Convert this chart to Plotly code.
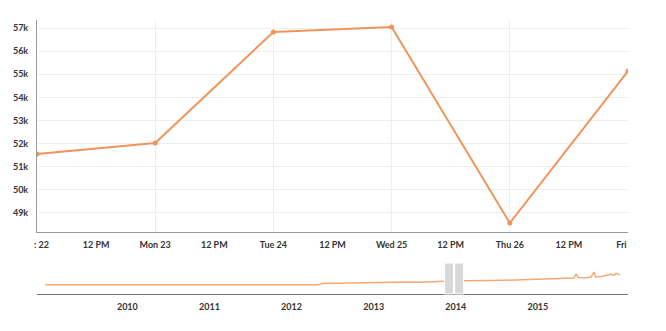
import plotly.graph_objects as go
import pandas as pd

# Main (zoomed) series: daily values, Dec 22-27 2013
main_dates = ["2013-12-22", "2013-12-23", "2013-12-24", "2013-12-25", "2013-12-26", "2013-12-27"]
main_values = [51550, 52020, 56830, 57050, 48560, 55140]

# Navigator (full history) series
nav_dates = [
    "2009-01-01", "2009-07-01", "2010-01-01", "2010-07-01", "2011-01-01", "2011-05-01",
    "2011-09-01", "2012-01-01", "2012-05-01", "2012-05-15", "2012-07-01", "2012-09-01",
    "2012-11-01", "2013-01-01", "2013-03-01", "2013-05-01", "2013-06-01", "2013-08-01",
    "2013-10-01", "2013-12-01", "2014-02-01", "2014-04-01", "2014-06-01", "2014-08-01",
    "2014-10-01", "2014-12-01", "2015-02-01", "2015-04-01", "2015-05-01", "2015-06-10",
    "2015-06-20", "2015-07-01", "2015-08-01", "2015-08-25", "2015-09-08", "2015-09-15",
    "2015-10-10", "2015-11-01", "2015-11-20", "2015-12-05", "2015-12-15", "2015-12-31",
]
nav_values = [
    35500, 35500, 35500, 35600, 35800, 36000,
    35800, 35900, 36200, 40500, 41500, 42500,
    41800, 44000, 47000, 48000, 46500, 45500,
    48500, 50000, 51500, 51000, 52000, 53000,
    54500, 56500, 57500, 58500, 61000, 62000,
    76000, 64000, 63000, 66000, 85000, 66000,
    68000, 72000, 76000, 73000, 80000, 74000,
]

main_ticks = pd.date_range("2013-12-22", "2013-12-27", freq="12h")
main_ticktext = ["\u00a0\u00a0\u00a0\u00a0: 22", "12 PM", "Mon 23", "12 PM", "Tue 24", "12 PM",
                 "Wed 25", "12 PM", "Thu 26", "12 PM", "Fri\u00a0\u00a0\u00a0\u00a0\u00a0\u00a0"]
y_ticks = [49000, 50000, 51000, 52000, 53000, 54000, 55000, 56000, 57000]
y_ticktext = ["49k", "50k", "51k", "52k", "53k", "54k", "55k", "56k", "57k"]
year_ticks = ["2010-01-01", "2011-01-01", "2012-01-01", "2013-01-01", "2014-01-01", "2015-01-01"]
year_text = ["2010", "2011", "2012", "2013", "2014", "2015"]

LINE = "#f0955a"
FONT = dict(family="Lato", size=9, color="#333", weight=700)

fig = go.Figure()
fig.add_trace(go.Scatter(x=main_dates, y=main_values, mode="lines+markers",
                         line=dict(color=LINE, width=2), marker=dict(color=LINE, size=5),
                         xaxis="x", yaxis="y", hoverinfo="x+y"))
fig.add_trace(go.Scatter(x=nav_dates, y=nav_values, mode="lines",
                         line=dict(color="rgba(240,140,70,0.75)", width=1.5),
                         xaxis="x2", yaxis="y2", hoverinfo="skip"))

sel_start = pd.Timestamp(main_dates[0])
sel_end = pd.Timestamp(main_dates[-1])
handle = pd.Timedelta(days=40)
for a, b in [(sel_start - handle, sel_start), (sel_end, sel_end + handle)]:
    fig.add_shape(type="rect", xref="x2", yref="y2 domain", x0=a, x1=b, y0=0, y1=1,
                  fillcolor="#d9d9d9", line=dict(color="white", width=1), layer="above")

fig.update_layout(
    width=666, height=331,
    margin=dict(l=37, r=38, t=20, b=37),
    plot_bgcolor="white", paper_bgcolor="white",
    showlegend=False,
    font=FONT,
    xaxis=dict(domain=[0, 1], anchor="y", type="date",
               range=[main_dates[0], main_dates[-1]],
               tickmode="array", tickvals=main_ticks, ticktext=main_ticktext,
               showgrid=False, showline=True, linecolor="#999", linewidth=1,
               ticks="", ticklabelstandoff=4, tickfont=FONT,
               minor=dict(dtick=86400000, tick0="2013-12-22", showgrid=True,
                          gridcolor="#eeeeee", gridwidth=1, ticks=""),
               zeroline=False),
    yaxis=dict(domain=[0.2263, 1], anchor="x", range=[48170, 57350],
               tickmode="array", tickvals=y_ticks, ticktext=y_ticktext,
               showgrid=True, gridcolor="#eeeeee", gridwidth=1,
               showline=True, linecolor="#999", linewidth=1,
               ticks="", ticklabelstandoff=6, tickfont=FONT, zeroline=False),
    xaxis2=dict(domain=[0, 1], anchor="y2", type="date",
                range=["2008-11-25", "2016-02-06"],
                tickmode="array", tickvals=year_ticks, ticktext=year_text,
                showgrid=False, showline=True, linecolor="#777", linewidth=1,
                ticks="", ticklabelstandoff=4, tickfont=FONT, zeroline=False),
    yaxis2=dict(domain=[0, 0.113], anchor="x2", range=[0, 120000],
                showgrid=False, showticklabels=False, showline=False, zeroline=False),
)

fig.write_html("out.html")
